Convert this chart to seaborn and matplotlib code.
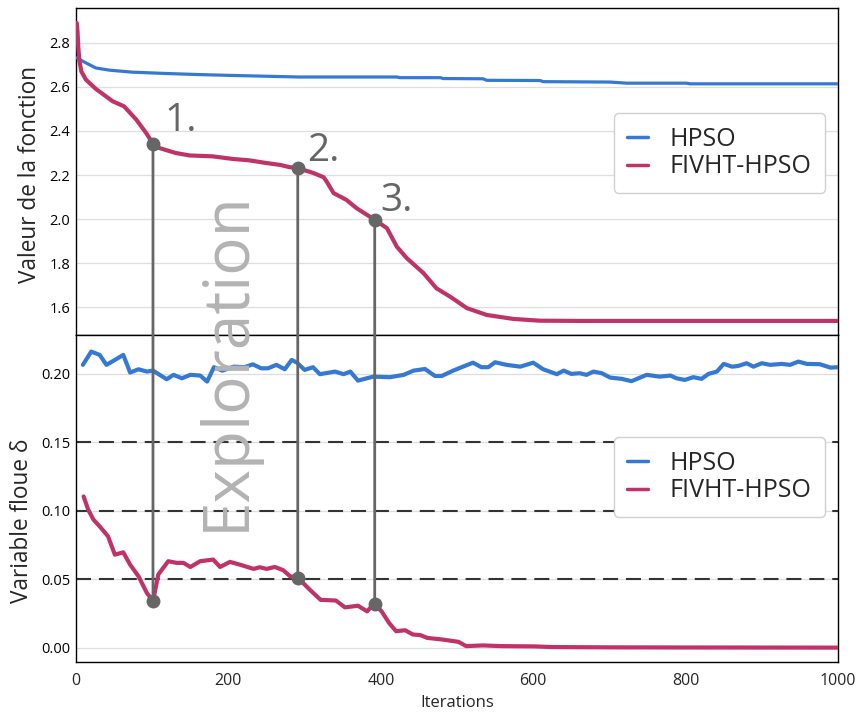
import numpy as np
import pandas as pd
import matplotlib
matplotlib.use("Agg")
import matplotlib.pyplot as plt
from matplotlib.patches import ConnectionPatch
import seaborn as sns

# ---------------- data ----------------
top_hpso_x = [1, 13, 26, 44, 74, 118, 162, 206, 293, 421, 425, 478, 482, 534, 539,
              609, 613, 701, 723, 801, 806, 1000]
top_hpso_y = [2.732, 2.709, 2.686, 2.676, 2.667, 2.661, 2.656, 2.652, 2.645, 2.645,
              2.642, 2.642, 2.638, 2.637, 2.630, 2.629, 2.624, 2.622, 2.617, 2.617,
              2.614, 2.614]

top_fivht_x = [1, 2, 3, 4.4, 7, 13, 26, 39, 48, 63, 79, 92, 101, 109, 131, 149, 179,
               206, 227, 249, 268, 280, 290, 311, 325, 329, 338, 355, 368, 392, 408,
               421, 434, 456, 473, 491, 513, 539, 574, 609, 661, 1000]
top_fivht_y = [2.89, 2.85, 2.78, 2.72, 2.67, 2.633, 2.591, 2.558, 2.535, 2.512, 2.452,
               2.391, 2.342, 2.323, 2.300, 2.289, 2.285, 2.273, 2.267, 2.255, 2.246,
               2.236, 2.232, 2.210, 2.190, 2.170, 2.118, 2.087, 2.050, 1.997, 1.959,
               1.875, 1.823, 1.755, 1.686, 1.648, 1.596, 1.565, 1.547, 1.539, 1.538,
               1.538]

bot_hpso_x = [9, 20, 31, 40, 51, 62, 71, 82, 93, 101, 119, 128, 139, 150, 163, 172,
              181, 192, 207, 221, 232, 243, 252, 263, 274, 283, 290, 300, 311, 320,
              340, 351, 360, 370, 390, 412, 430, 443, 458, 471, 480, 495, 506, 521,
              532, 541, 550, 565, 583, 600, 613, 631, 640, 650, 661, 670, 679, 690,
              701, 716, 729, 749, 766, 780, 788, 799, 810, 821, 830, 841, 850, 861,
              869, 880, 889, 900, 911, 926, 937, 948, 959, 976, 990, 1000]
bot_hpso_y = [0.2066, 0.2163, 0.2139, 0.2066, 0.2102, 0.2139, 0.2010, 0.2034, 0.2017,
              0.2024, 0.1961, 0.1993, 0.1968, 0.1993, 0.1988, 0.1944, 0.2049, 0.2024,
              0.2053, 0.2049, 0.2070, 0.2041, 0.2041, 0.2066, 0.2034, 0.2102, 0.2082,
              0.2029, 0.2049, 0.1998, 0.2017, 0.1998, 0.2017, 0.1951, 0.1980, 0.1976,
              0.1993, 0.2024, 0.2036, 0.1985, 0.1985, 0.2024, 0.2049, 0.2082, 0.2049,
              0.2049, 0.2085, 0.2066, 0.2053, 0.2082, 0.2034, 0.1998, 0.2024, 0.2000,
              0.2005, 0.1993, 0.2017, 0.2005, 0.1973, 0.1964, 0.1947, 0.1993, 0.1980,
              0.1988, 0.1968, 0.1956, 0.1976, 0.1964, 0.2000, 0.2017, 0.2073, 0.2053,
              0.2058, 0.2078, 0.2053, 0.2078, 0.2066, 0.2073, 0.2066, 0.2090, 0.2073,
              0.2071, 0.2046, 0.2049]

bot_fivht_x = [10, 16, 23, 31, 42, 51, 62, 71, 82, 93, 101, 108, 121, 132, 141, 150,
               163, 180, 189, 202, 215, 233, 241, 250, 261, 272, 281, 291, 307, 321,
               341, 353, 370, 382, 391, 401, 411, 420, 432, 442, 452, 461, 481, 502,
               512, 534, 558, 601, 626, 700, 800, 1000]
bot_fivht_y = [0.1105, 0.1008, 0.0935, 0.0887, 0.0814, 0.0680, 0.0697, 0.0607, 0.0522,
               0.0400, 0.0340, 0.0535, 0.0632, 0.0620, 0.0620, 0.0590, 0.0632, 0.0644,
               0.0590, 0.0627, 0.0607, 0.0576, 0.0588, 0.0576, 0.0590, 0.0566, 0.0522,
               0.0512, 0.0423, 0.0350, 0.0345, 0.0295, 0.0307, 0.0266, 0.0321, 0.0266,
               0.0180, 0.0121, 0.0128, 0.0097, 0.0092, 0.0072, 0.0060, 0.0043, 0.0012,
               0.0017, 0.0012, 0.0010, 0.0005, 0.0003, 0.0002, 0.0001]

pt_x = [101, 291, 392]
pt_top = [2.342, 2.232, 1.997]
pt_bot = [0.0340, 0.0512, 0.0321]
pt_labels = ["1.", "2.", "3."]
pt_label_x = [116, 303, 399]
pt_label_y = [2.398, 2.262, 2.036]

dash_levels = [0.05, 0.10, 0.15]
series_names = ["HPSO", "FIVHT-HPSO"]

# ---------------- style ----------------
sns.set_style("white")
plt.rcParams['font.family'] = ['Open Sans', 'DejaVu Sans']

BLUE = "#3579d3"
RED = "#c03368"
GRAY = "#666666"

fig = plt.figure(figsize=(8.58, 7.18), dpi=100)
ax1 = fig.add_axes([0.0886, 0.5334, 0.8881, 0.4554])
ax2 = fig.add_axes([0.0886, 0.0780, 0.8881, 0.4554])

df_top_h = pd.DataFrame({"x": top_hpso_x, "y": top_hpso_y})
df_top_f = pd.DataFrame({"x": top_fivht_x, "y": top_fivht_y})
df_bot_h = pd.DataFrame({"x": bot_hpso_x, "y": bot_hpso_y})
df_bot_f = pd.DataFrame({"x": bot_fivht_x, "y": bot_fivht_y})

sns.lineplot(data=df_top_h, x="x", y="y", ax=ax1, color=BLUE, lw=2.3,
             label=series_names[0], zorder=3)
sns.lineplot(data=df_top_f, x="x", y="y", ax=ax1, color=RED, lw=3.0,
             label=series_names[1], zorder=3)
sns.lineplot(data=df_bot_h, x="x", y="y", ax=ax2, color=BLUE, lw=3.0,
             label=series_names[0], zorder=3)
sns.lineplot(data=df_bot_f, x="x", y="y", ax=ax2, color=RED, lw=3.0,
             label=series_names[1], zorder=3)

for lv in dash_levels:
    ax2.axhline(lv, color="#333333", lw=1.5, dashes=(7.2, 3.8), zorder=2)

for ax in (ax1, ax2):
    ax.set_xlim(0, 1000)
    ax.yaxis.grid(True, color="#dedede", lw=0.9)
    ax.xaxis.grid(False)
    ax.set_axisbelow(True)
    for s in ax.spines.values():
        s.set_color("black")
        s.set_linewidth(1.0)
    ax.tick_params(axis='y', direction='in', length=5, width=1, colors='black',
                   labelsize=10.5, pad=4)

ax1.set_ylim(1.474, 2.958)
ax1.set_yticks([1.6, 1.8, 2.0, 2.2, 2.4, 2.6, 2.8])
ax1.set_xticks([0, 200, 400, 600, 800, 1000])
ax1.tick_params(axis='x', length=0, labelbottom=False)
ax1.set_xlabel("")
ax1.set_ylabel("Valeur de la fonction", fontsize=16.3)
ax1.yaxis.set_label_coords(-0.0445, 0.492)

ax2.set_ylim(-0.0104, 0.2284)
ax2.set_yticks([0.00, 0.05, 0.10, 0.15, 0.20])
ax2.set_yticklabels(["0.00", "0.05", "0.10", "0.15", "0.20"])
ax2.set_xticks([0, 200, 400, 600, 800, 1000])
ax2.tick_params(axis='x', direction='out', length=5, width=1, labelsize=11.5, pad=3)
ax2.set_xlabel("Iterations", fontsize=12)
ax2.set_ylabel("Variable floue δ", fontsize=16.3)
ax2.yaxis.set_label_coords(-0.0555, 0.431)

for ax, top in ((ax1, 0.679), (ax2, 0.688)):
    leg = ax.legend(loc="upper right", bbox_to_anchor=(0.983, top), borderaxespad=0,
                    fontsize=18, frameon=True, framealpha=1, edgecolor="#d0d0d0",
                    handlelength=0.84, handletextpad=0.84, labelspacing=0.1,
                    borderpad=0.55)
    for h in leg.get_lines():
        h.set_linewidth(2.5)

# points and connecting lines
ax1.plot(pt_x, pt_top, 'o', color=GRAY, ms=9, zorder=6, clip_on=False)
ax2.plot(pt_x, pt_bot, 'o', color=GRAY, ms=9, zorder=6, clip_on=False)
for x, yt, yb in zip(pt_x, pt_top, pt_bot):
    con = ConnectionPatch(xyA=(x, yt), coordsA=ax1.transData,
                          xyB=(x, yb), coordsB=ax2.transData,
                          color=GRAY, lw=2.0, zorder=5)
    fig.add_artist(con)

for lx, ly, lab in zip(pt_label_x, pt_label_y, pt_labels):
    ax1.text(lx, ly, lab, fontsize=28, color=GRAY, ha='left', va='baseline', zorder=7)

fig.text(0.2845, 0.4985, "Exploration", rotation=90, rotation_mode='anchor',
         ha='center', va='baseline', fontsize=46, color="#b3b3b3", zorder=10)

fig.savefig("out.png", dpi=100)
